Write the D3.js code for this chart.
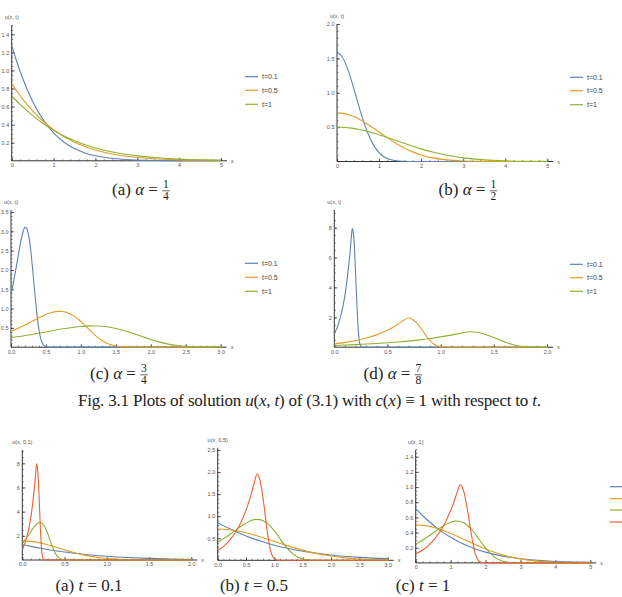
<!DOCTYPE html>
<html>
<head>
<meta charset="utf-8">
<script src="https://cdn.jsdelivr.net/npm/d3@7"></script>
<style>
  body { margin: 0; background: #fff; }
  svg { display: block; }
  .tick text { font-family: "Liberation Sans", sans-serif; fill: #555; }
</style>
</head>
<body>
<svg id="fig" width="622" height="597"></svg>
<script>
// series names / legend text
const alphaNames = ["1/4", "1/2", "3/4", "7/8"];
const timeNames = ["t=0.1", "t=0.5", "t=1"];
const colors = ["#5e81b5", "#e19c24", "#8fb032", "#eb6235"];

// alpha = 1/4 (shared x grid)
const x14 = [0, 0.1, 0.25, 0.5, 0.75, 1, 1.25, 1.5, 1.75, 2, 2.5, 3, 3.5, 4, 4.5, 5];
const u14_t01 = [1.277, 1.127, 0.927, 0.656, 0.456, 0.309, 0.206, 0.135, 0.087, 0.055, 0.022, 0.008, 0.003, 0.001, 0, 0];
const u14_t05 = [0.854, 0.786, 0.691, 0.553, 0.438, 0.343, 0.267, 0.206, 0.158, 0.120, 0.067, 0.037, 0.020, 0.010, 0.006, 0.003];
const u14_t1 = [0.718, 0.670, 0.602, 0.500, 0.412, 0.337, 0.274, 0.222, 0.178, 0.142, 0.089, 0.055, 0.033, 0.019, 0.011, 0.007];

// alpha = 1/2 (shared x grid)
const x12 = [0, 0.1, 0.2, 0.3, 0.4, 0.5, 0.6, 0.7, 0.8, 0.9, 1.0, 1.1, 1.2, 1.4, 1.6, 1.8, 2.0, 2.25, 2.5, 2.75, 3, 3.5, 4, 4.5, 5];
const u12_t01 = [1.581, 1.542, 1.431, 1.263, 1.060, 0.846, 0.643, 0.464, 0.319, 0.209, 0.130, 0.077, 0.043, 0.012, 0.003, 0, 0, 0, 0, 0, 0, 0, 0, 0, 0];
const u12_t05 = [0.707, 0.704, 0.693, 0.676, 0.653, 0.624, 0.591, 0.553, 0.513, 0.472, 0.429, 0.386, 0.344, 0.265, 0.197, 0.140, 0.096, 0.056, 0.031, 0.016, 0.008, 0.002, 0, 0, 0];
const u12_t1 = [0.500, 0.499, 0.495, 0.489, 0.480, 0.470, 0.457, 0.442, 0.426, 0.408, 0.389, 0.370, 0.349, 0.306, 0.264, 0.222, 0.184, 0.141, 0.105, 0.076, 0.053, 0.023, 0.009, 0.003, 0.001];

// alpha = 3/4
const x34_t01 = [0, 0.044, 0.089, 0.133, 0.178, 0.200, 0.222, 0.244, 0.267, 0.289, 0.311, 0.333, 0.356, 0.378, 0.400, 0.422, 0.445, 0.467, 0.489, 0.533, 5];
const u34_t01 = [1.374, 1.764, 2.217, 2.676, 3.022, 3.101, 3.088, 2.967, 2.734, 2.400, 1.993, 1.545, 1.116, 0.742, 0.448, 0.247, 0.121, 0.052, 0.020, 0.002, 0];
const x34_t05 = [0, 0.149, 0.297, 0.446, 0.595, 0.669, 0.743, 0.818, 0.892, 0.966, 1.041, 1.115, 1.189, 1.264, 1.338, 1.412, 1.487, 1.561, 1.635, 1.784, 5];
const u34_t05 = [0.411, 0.528, 0.663, 0.800, 0.904, 0.927, 0.923, 0.887, 0.818, 0.718, 0.596, 0.462, 0.334, 0.222, 0.134, 0.074, 0.036, 0.015, 0.006, 0.001, 0];
const x34_t1 = [0, 0.25, 0.5, 0.75, 1, 1.125, 1.25, 1.375, 1.5, 1.625, 1.75, 1.875, 2, 2.125, 2.25, 2.375, 2.5, 2.625, 2.75, 3, 5];
const u34_t1 = [0.244, 0.314, 0.394, 0.476, 0.537, 0.551, 0.549, 0.528, 0.486, 0.427, 0.354, 0.275, 0.198, 0.132, 0.080, 0.044, 0.022, 0.009, 0.004, 0, 0];

// alpha = 7/8
const x78_t01 = [0, 0.027, 0.053, 0.080, 0.107, 0.120, 0.133, 0.147, 0.160, 0.169, 0.180, 0.187, 0.200, 0.213, 0.227, 0.240, 0.253, 0.267, 5];
const u78_t01 = [0.91, 1.31, 1.89, 2.70, 3.79, 4.52, 5.33, 6.26, 7.34, 7.96, 7.57, 6.95, 5.02, 2.78, 1.00, 0.23, 0.04, 0, 0];
const x78_t05 = [0, 0.109, 0.218, 0.327, 0.436, 0.491, 0.545, 0.600, 0.654, 0.693, 0.736, 0.763, 0.818, 0.872, 0.927, 0.982, 1.036, 1.091, 5];
const u78_t05 = [0.224, 0.323, 0.465, 0.664, 0.930, 1.110, 1.309, 1.538, 1.803, 1.955, 1.860, 1.709, 1.234, 0.683, 0.246, 0.057, 0.009, 0, 0];
const x78_t1 = [0, 0.2, 0.4, 0.6, 0.8, 0.9, 1.0, 1.1, 1.2, 1.27, 1.35, 1.4, 1.5, 1.6, 1.7, 1.8, 1.9, 2.0, 5];
const u78_t1 = [0.118, 0.17, 0.245, 0.35, 0.49, 0.585, 0.69, 0.81, 0.95, 1.03, 0.98, 0.90, 0.65, 0.36, 0.13, 0.03, 0.005, 0, 0];

const zip = (xs, us) => xs.map((x, i) => [x, us[i]]);
const S = {
  a14: [zip(x14, u14_t01), zip(x14, u14_t05), zip(x14, u14_t1)],
  a12: [zip(x12, u12_t01), zip(x12, u12_t05), zip(x12, u12_t1)],
  a34: [zip(x34_t01, u34_t01), zip(x34_t05, u34_t05), zip(x34_t1, u34_t1)],
  a78: [zip(x78_t01, u78_t01), zip(x78_t05, u78_t05), zip(x78_t1, u78_t1)]
};
const alphaKeys = ["a14", "a12", "a34", "a78"];

// panel layout
const panels = [
  { xr: [11.7, 221], yr: [160.8, 34.3], xd: [0, 5], yd: [0, 1.4], ytop: 1.5, xs: [1, 0.2], ys: [0.2, 0.05], xf: "d", yf: ".1f",
    ylab: "u(x, t)", series: S.a14, cols: colors.slice(0, 3), legend: { x: 245, ys: [76.7, 90.3, 104.3], labels: timeNames } },
  { xr: [337, 547.3], yr: [161.5, 24], xd: [0, 5], yd: [0, 2], ytop: 2, xs: [1, 0.2], ys: [0.5, 0.1], xf: "d", yf: ".1f",
    ylab: "u(x, t)", series: S.a12, cols: colors.slice(0, 3), legend: { x: 570, ys: [77.3, 90.7, 104.7], labels: timeNames } },
  { xr: [11, 220.7], yr: [347.2, 212], xd: [0, 3], yd: [0, 3.5], ytop: 3.55, xs: [0.5, 0.1], ys: [0.5, 0.1], xf: ".1f", yf: ".1f",
    ylab: "u(x, t)", series: S.a34, cols: colors.slice(0, 3), legend: { x: 245, ys: [263.3, 277.3, 291.3], labels: timeNames } },
  { xr: [334.3, 547], yr: [347.2, 227.7], xd: [0, 2], yd: [0, 8], ytop: 9.2, xs: [0.5, 0.1], ys: [2, 0.5], xf: ".1f", yf: "d",
    ylab: "u(x, t)", series: S.a78, cols: colors.slice(0, 3), legend: { x: 570, ys: [264.3, 277.7, 291.3], labels: timeNames } },
  { xr: [22.3, 191.3], yr: [560, 463.3], xd: [0, 2], yd: [0, 8], ytop: 9.1, xs: [0.5, 0.1], ys: [2, 0.5], xf: ".1f", yf: "d",
    ylab: "u(x, 0.1)", series: alphaKeys.map(k => S[k][0]), cols: colors, legend: null },
  { xr: [217.7, 387.7], yr: [560.3, 450], xd: [0, 3], yd: [0, 2.5], ytop: 2.55, xs: [0.5, 0.1], ys: [0.5, 0.1], xf: ".1f", yf: ".1f",
    ylab: "u(x, 0.5)", series: alphaKeys.map(k => S[k][1]), cols: colors, legend: null },
  { xr: [415.7, 590.3], yr: [562.9, 456.7], xd: [0, 5], yd: [0, 1.4], ytop: 1.49, xs: [1, 0.2], ys: [0.2, 0.05], xf: "d", yf: ".1f",
    ylab: "u(x, 1)", series: alphaKeys.map(k => S[k][2]), cols: colors, legend: { x: 610, ys: [486.7, 498.7, 510, 522], labels: ["", "", "", ""] } }
];

const svg = d3.select("#fig");
const ticksFrom = (lo, hi, step) => d3.range(Math.round(lo / step), Math.round(hi / step) + 1).map(i => +(i * step).toFixed(4));

panels.forEach((p, pi) => {
  const x = d3.scaleLinear().domain(p.xd).range(p.xr);
  const y = d3.scaleLinear().domain(p.yd).range(p.yr);
  const g = svg.append("g");
  const x0 = x(0), y0 = y(0);
  const xEnd = x(p.xd[1]) + 6, yEnd = y(p.ytop);

  // curves, clipped to the plot box
  const clipId = "clip" + pi;
  g.append("clipPath").attr("id", clipId).append("rect")
    .attr("x", x0).attr("y", yEnd - 2).attr("width", x(p.xd[1]) - x0 + 1).attr("height", y0 - yEnd + 4);

  // minor ticks
  const xMinor = ticksFrom(p.xd[0], p.xd[1], p.xs[1]);
  const yMinor = ticksFrom(p.ys[1], p.ytop, p.ys[1]);
  g.append("g").attr("transform", `translate(0,${y0})`)
    .call(d3.axisBottom(x).tickValues(xMinor).tickSize(-1.6).tickSizeOuter(0).tickFormat(""))
    .call(a => a.select(".domain").remove())
    .selectAll("line").attr("stroke", "#444").attr("stroke-width", 0.6);
  g.append("g").attr("transform", `translate(${x0},0)`)
    .call(d3.axisLeft(y).tickValues(yMinor).tickSize(-1.6).tickSizeOuter(0).tickFormat(""))
    .call(a => a.select(".domain").remove())
    .selectAll("line").attr("stroke", "#444").attr("stroke-width", 0.6);

  // major ticks with labels
  const xMajor = ticksFrom(p.xd[0], p.xd[1], p.xs[0]);
  const yMajor = ticksFrom(p.ys[0], p.yd[1], p.ys[0]);
  const xa = g.append("g").attr("transform", `translate(0,${y0})`)
    .call(d3.axisBottom(x).tickValues(xMajor).tickSize(-3).tickSizeOuter(0).tickPadding(2.5).tickFormat(d3.format(p.xf)));
  xa.select(".domain").remove();
  xa.selectAll("line").attr("stroke", "#333").attr("stroke-width", 0.8);
  xa.selectAll("text").attr("font-size", 5.5);
  const ya = g.append("g").attr("transform", `translate(${x0},0)`)
    .call(d3.axisLeft(y).tickValues(yMajor).tickSize(-3).tickSizeOuter(0).tickPadding(2.5).tickFormat(d3.format(p.yf)));
  ya.select(".domain").remove();
  ya.selectAll("line").attr("stroke", "#333").attr("stroke-width", 0.8);
  ya.selectAll("text").attr("font-size", 5.5);

  // axis lines
  g.append("line").attr("x1", x0).attr("x2", xEnd).attr("y1", y0).attr("y2", y0)
    .attr("stroke", "#333").attr("stroke-width", 1);
  g.append("line").attr("x1", x0).attr("x2", x0).attr("y1", y0).attr("y2", yEnd)
    .attr("stroke", "#333").attr("stroke-width", 1);

  // axis labels
  g.append("text").attr("x", xEnd + 4).attr("y", y0 + 2).attr("font-size", 5.5)
    .attr("font-family", "Liberation Sans, sans-serif").attr("fill", "#555").text("x");
  g.append("text").attr("x", x0).attr("y", yEnd - 6).attr("text-anchor", "middle").attr("font-size", 5.5)
    .attr("font-family", "Liberation Sans, sans-serif").attr("fill", "#555").text(p.ylab);

  const line = d3.line().x(d => x(d[0])).y(d => y(d[1])).curve(d3.curveMonotoneX);
  const cg = g.append("g").attr("clip-path", `url(#${clipId})`);
  p.series.forEach((s, i) => {
    cg.append("path").attr("d", line(s)).attr("fill", "none")
      .attr("stroke", p.cols[i]).attr("stroke-width", 1.1);
  });

  // legend
  if (p.legend) {
    p.legend.ys.forEach((ly, i) => {
      g.append("line").attr("x1", p.legend.x).attr("x2", p.legend.x + 13).attr("y1", ly).attr("y2", ly)
        .attr("stroke", p.cols[i]).attr("stroke-width", 1.2);
      g.append("text").attr("x", p.legend.x + 17).attr("y", ly + 2.4).attr("font-size", 7)
        .attr("font-family", "Liberation Sans, sans-serif").attr("fill", "#444").text(p.legend.labels[i]);
    });
  }
});

// captions
const serif = "Liberation Serif, DejaVu Serif, serif";
function caption(cx, cy, tag, frac) {
  const t = svg.append("text").attr("y", cy + 5).attr("font-family", serif).attr("font-size", 17).attr("fill", "#222");
  t.append("tspan").text(tag + " ");
  t.append("tspan").attr("font-style", "italic").text("α");
  t.append("tspan").text(" =");
  const w = t.node().getComputedTextLength();
  const left = cx - (w + 12) / 2;
  t.attr("x", left);
  const fx = left + w + 8;
  const [num, den] = frac.split("/");
  svg.append("text").attr("x", fx).attr("y", cy - 2).attr("text-anchor", "middle").attr("font-family", serif)
    .attr("font-size", 11.5).attr("fill", "#222").text(num);
  svg.append("line").attr("x1", fx - 3.8).attr("x2", fx + 3.8).attr("y1", cy + 0.8).attr("y2", cy + 0.8)
    .attr("stroke", "#222").attr("stroke-width", 0.7);
  svg.append("text").attr("x", fx).attr("y", cy + 10).attr("text-anchor", "middle").attr("font-family", serif)
    .attr("font-size", 11.5).attr("fill", "#222").text(den);
}
caption(141, 190, "(a)", alphaNames[0]);
caption(468, 190, "(b)", alphaNames[1]);
caption(119, 374, "(c)", alphaNames[2]);
caption(393, 374, "(d)", alphaNames[3]);

const fig = svg.append("text").attr("x", 309.5).attr("y", 406).attr("text-anchor", "middle")
  .attr("font-family", serif).attr("font-size", 17).attr("fill", "#222")
  .attr("textLength", 463).attr("lengthAdjust", "spacing");
[["Fig. 3.1 Plots of solution ", false], ["u", true], ["(", false], ["x", true], [", ", false], ["t", true],
 [") of (3.1) with ", false], ["c", true], ["(", false], ["x", true], [") ≡ 1 with respect to ", false], ["t", true], [".", false]]
  .forEach(([s, it]) => fig.append("tspan").attr("font-style", it ? "italic" : null).text(s));

function tcap(cx, tag, val) {
  const t = svg.append("text").attr("x", cx).attr("y", 591).attr("text-anchor", "middle")
    .attr("font-family", serif).attr("font-size", 17).attr("fill", "#222");
  t.append("tspan").text(tag + " ");
  t.append("tspan").attr("font-style", "italic").text("t");
  t.append("tspan").text(" = " + val);
}
tcap(89, "(a)", "0.1");
tcap(254, "(b)", "0.5");
tcap(423, "(c)", "1");
</script>
</body>
</html>
